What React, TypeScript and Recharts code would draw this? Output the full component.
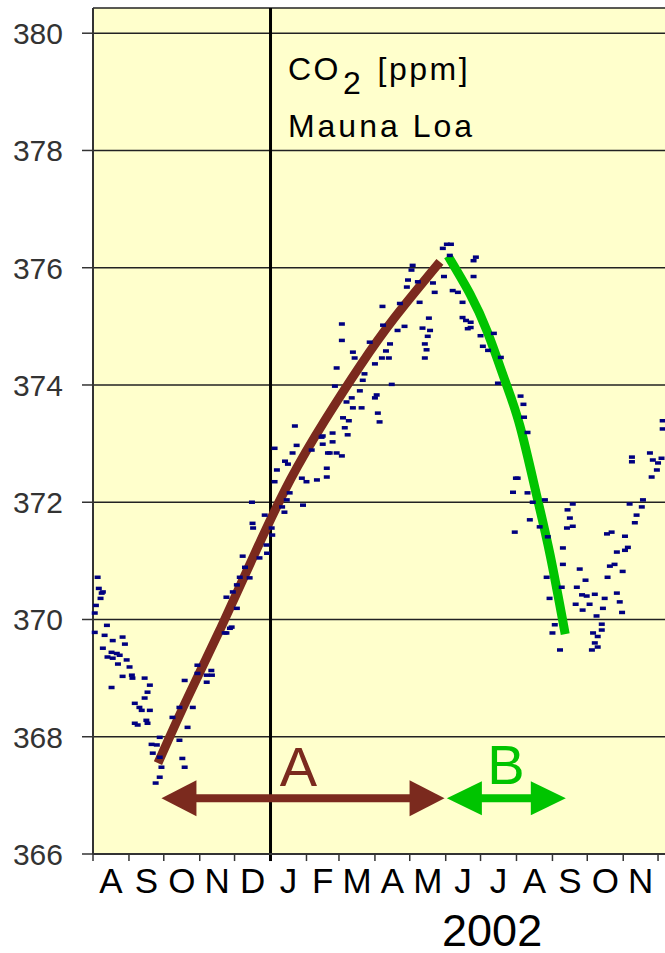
import React from 'react';
import { ComposedChart, XAxis, YAxis, CartesianGrid, Scatter, Line, ReferenceLine } from 'recharts';

// x values are days counted from 1 Aug 2001
const monthStarts = [0, 31, 61, 92, 122, 153, 184, 212, 243, 273, 304, 334, 365, 396, 426, 457, 487];
const monthLetters = ['A', 'S', 'O', 'N', 'D', 'J', 'F', 'M', 'A', 'M', 'J', 'J', 'A', 'S', 'O', 'N'];
const yTicks = [366, 368, 370, 372, 374, 376, 378, 380];
const yearStartDay = 153;

// daily Mauna Loa readings [day, ppm]
const dailyCo2: [number, number][] = [
  [4, 370.72], [5, 370.53], [7.5, 370.45], [8.5, 370.47], [6.5, 370.36], [2.5, 370.24], [1.5, 370.11], [1.5, 369.78],
  [12, 369.9], [10, 369.73], [17, 369.64], [25.5, 369.7], [27.5, 369.58], [8.5, 369.51], [16, 369.44], [20.5, 369.42],
  [23, 369.39], [12.5, 369.36], [17, 369.34], [21.5, 369.24], [29, 369.31], [31.5, 369.19], [25.5, 369.03], [33.5, 369.05],
  [16, 368.84], [34, 369.0], [44.5, 369.0], [49, 368.88], [47, 368.76], [44.5, 368.66], [36, 368.57], [40, 368.5],
  [42, 368.45], [49, 368.45], [36, 368.23], [46, 368.28], [38.5, 368.2], [47, 368.23],
  [57.5, 367.99], [50.5, 367.87], [55, 367.86], [51.5, 367.72], [57.5, 367.65], [59, 367.48], [57.5, 367.31], [54, 367.21],
  [77, 367.63], [79, 367.48], [74.5, 367.94], [81.5, 368.16], [68.5, 368.33], [74.5, 368.5], [86, 368.5], [79, 368.96],
  [90, 369.08], [90, 369.22], [98, 369.05], [102, 369.13], [102.5, 369.05], [98, 368.93], [115, 369.77], [119.5, 369.87],
  [115, 370.38], [120.5, 370.47], [124, 370.59], [113.5, 369.77], [118, 369.85], [124, 370.19], [126.5, 370.72], [129, 371.08],
  [131, 370.89], [135, 370.71], [137, 372.0], [137.5, 371.64], [138, 371.56], [143.5, 371.05], [148, 371.78], [149.5, 371.27],
  [150, 371.13], [154, 371.56], [154.5, 371.44],
  [156.5, 372.92], [158.5, 372.55], [156.5, 372.35], [163, 371.92], [165, 371.83], [165.5, 372.7], [167, 372.04], [168, 372.65],
  [169.5, 372.16], [172, 372.84], [174, 373.3], [175.5, 372.97], [180, 372.41], [181, 371.95], [184, 372.35], [188.5, 372.89],
  [193, 372.38], [197, 373.11], [198, 373.13], [198, 372.99], [201.5, 372.58], [201.5, 372.43], [202.5, 372.84], [204, 372.84],
  [206.5, 373.03], [206.5, 373.18], [208.5, 373.98], [210, 374.29], [210, 372.84], [214.5, 375.04], [214.5, 374.76], [214.5, 372.79],
  [215.5, 373.44], [217, 373.27], [218.5, 373.71], [219.5, 373.15], [220.5, 373.39], [223, 373.78], [224, 374.56], [224, 373.61],
  [225.5, 374.46], [230, 373.9], [231.5, 373.61], [232.5, 374.08], [234, 374.19], [238.5, 374.73], [243, 374.36], [243, 373.78],
  [244.5, 373.83], [245.5, 373.52], [247, 373.37], [249, 374.46], [249.5, 375.34], [250, 375.02], [252.5, 374.58], [255, 374.46],
  [256, 374.7], [257.5, 374.01], [262.5, 374.93], [264.5, 375.39], [268.5, 375.0], [270.5, 375.67], [271.5, 375.79], [274.5, 375.96],
  [275.5, 376.04], [280, 375.76], [281.5, 375.41], [284, 374.97], [286, 374.7], [286, 374.46], [287.5, 374.6], [288.5, 374.83],
  [289.5, 375.14], [290.5, 374.93], [293, 375.74], [294.5, 375.58], [301.5, 376.33], [302.5, 375.85], [305, 376.4],
  [307.5, 376.21], [308.5, 376.4], [310, 375.61], [314.5, 375.58], [318.5, 375.41], [318.5, 375.15], [321.5, 375.1], [323, 374.96],
  [325.5, 375.07], [325.5, 374.98], [328, 376.12], [328, 375.85], [330, 376.18], [334, 374.84], [336, 374.66], [340.5, 374.59],
  [345.5, 374.88], [349, 374.03], [351.5, 374.47], [362, 372.17], [363.5, 371.49], [364.5, 372.41], [366, 372.41], [368.5, 373.81],
  [371, 373.67], [371.5, 373.45], [374.5, 373.19], [374.5, 372.16], [376.5, 371.7], [379, 372.0], [385, 371.58], [389.5, 372.04],
  [391, 370.72], [392, 371.41], [393.5, 370.36], [396, 369.77], [398, 369.91], [402.5, 369.48], [404, 370.55], [405, 371.22],
  [405, 370.94], [408.5, 371.56], [409, 371.87], [411, 371.73], [413.5, 371.97], [413.5, 371.59], [416, 370.26], [417, 370.55],
  [419.5, 370.86], [421.5, 370.42], [422, 370.16], [424.5, 370.67], [425.5, 370.4], [428, 370.26], [430, 369.48], [431, 369.77],
  [432.5, 370.43], [432.5, 369.6], [434, 370.06], [435, 369.71], [435, 369.53], [438.5, 369.92], [438.5, 369.82], [439.5, 370.19],
  [441, 370.36], [443, 371.46], [443.5, 370.72], [445.5, 370.91], [447, 371.49], [449.5, 370.94], [451.5, 371.15], [451.5, 370.45],
  [454, 370.3], [456, 370.12], [456.5, 370.82], [458.5, 371.42], [458.5, 371.18], [461, 371.23], [462.5, 371.97], [464.5, 372.77],
  [464.5, 372.69], [467, 371.65], [468.5, 371.78], [473, 371.92], [474, 372.04], [480, 372.84], [481.5, 372.43], [482.5, 372.72],
  [486, 372.55], [487, 372.67], [490, 372.75], [491, 373.39], [491, 373.25],
];

// rising phase A (Oct -> May) and falling phase B (May -> Sep)
const curveA: [number, number][] = [
  [56, 367.55], [80, 368.6], [110, 369.85], [140, 371.15], [170, 372.38], [200, 373.4], [230, 374.32], [260, 375.15], [299, 376.1],
];
const curveB: [number, number][] = [
  [306, 376.2], [325, 375.55], [340, 374.9], [355, 374.08], [368, 373.3], [382, 372.15], [394, 371.1], [407, 369.75],
];

const arrowLevel = 366.95;
const arrowA = [59, 303];
const arrowB = [305, 407.5];

const BROWN = '#7b2a1e';
const GREEN = '#00c400';
const FONT = '"Liberation Sans", Arial, sans-serif';

const toRows = (pts: [number, number][]) => pts.map(([day, ppm]) => ({ day, ppm }));
const midMonths = monthStarts.slice(0, -1).map((d, i) => (d + monthStarts[i + 1]) / 2);

const Dash = (props: any) => (
  <rect x={props.cx - 3} y={props.cy - 1.75} width={6} height={3.5} fill="#000080" />
);

const YTick = (props: any) => (
  <text x={props.x} y={props.y} dy={11} textAnchor="end" fontSize={30} fill="#333" fontFamily={FONT}>
    {props.payload.value}
  </text>
);

const MonthTick = (props: any) => {
  const i = midMonths.indexOf(props.payload.value);
  return (
    <text x={props.x} y={props.y} dy={39} textAnchor="middle" fontSize={35} fill="#000" fontFamily={FONT}>
      {monthLetters[i]}
    </text>
  );
};

const arrowShape = (color: string, head: number, half: number) => (props: any) => {
  const { x1, x2, y1 } = props;
  const l = Math.min(x1, x2);
  const r = Math.max(x1, x2);
  return (
    <g>
      <line x1={l + head - 1} x2={r - head + 1} y1={y1} y2={y1} stroke={color} strokeWidth={8} />
      <polygon points={`${l},${y1} ${l + head},${y1 - half} ${l + head},${y1 + half}`} fill={color} />
      <polygon points={`${r},${y1} ${r - head},${y1 - half} ${r - head},${y1 + half}`} fill={color} />
    </g>
  );
};

// annotation anchors [day, ppm]
const titleAnchor = [{ day: 168, ppm: 379.2 }];
const labelA = [{ day: 177, ppm: 367.16 }];
const labelB = [{ day: 356, ppm: 367.19 }];
const yearLabel = [{ day: 344, ppm: 366 }];

const App: React.FC = () => {
  return (
    <div style={{ position: 'absolute', left: 0, top: 0, background: '#fff' }}>
      <ComposedChart width={665} height={953} margin={{ top: 8, right: 0, bottom: 0, left: 0 }}>
        <CartesianGrid vertical={false} stroke="#222" strokeWidth={1.5} fill="#ffffcc" fillOpacity={1} />
        <XAxis
          type="number"
          dataKey="day"
          domain={[0, 493]}
          ticks={midMonths}
          interval={0}
          tickLine={false}
          tickSize={0}
          tickMargin={0}
          tick={<MonthTick />}
          axisLine={{ stroke: '#333', strokeWidth: 2 }}
          height={99}
        />
        <YAxis
          type="number"
          domain={[366, 380.43]}
          ticks={yTicks}
          interval={0}
          width={93}
          tickSize={11}
          tickMargin={19}
          tick={<YTick />}
          tickLine={{ stroke: '#333', strokeWidth: 1.5 }}
          axisLine={{ stroke: '#333', strokeWidth: 2 }}
        />
        {monthStarts.map((d) => (
          <ReferenceLine
            key={`m${d}`}
            segment={[{ x: d, y: 366 }, { x: d, y: 365.88 }]}
            ifOverflow="visible"
            stroke={d === yearStartDay ? '#000' : '#333'}
            strokeWidth={d === yearStartDay ? 3 : 1.5}
          />
        ))}
        <ReferenceLine x={yearStartDay} stroke="#000" strokeWidth={3} />
        <Scatter data={toRows(dailyCo2)} dataKey="ppm" shape={<Dash />} isAnimationActive={false} />
        <Line data={toRows(curveA)} dataKey="ppm" type="natural" stroke={BROWN} strokeWidth={9} dot={false} isAnimationActive={false} />
        <Line data={toRows(curveB)} dataKey="ppm" type="natural" stroke={GREEN} strokeWidth={9} dot={false} isAnimationActive={false} />
        <ReferenceLine
          segment={[{ x: arrowA[0], y: arrowLevel }, { x: arrowA[1], y: arrowLevel }]}
          shape={arrowShape(BROWN, 35, 18)}
        />
        <ReferenceLine
          segment={[{ x: arrowB[0], y: arrowLevel }, { x: arrowB[1], y: arrowLevel }]}
          shape={arrowShape(GREEN, 35, 17)}
        />
        <Scatter
          data={titleAnchor}
          dataKey="ppm"
          isAnimationActive={false}
          shape={(p: any) => (
            <g fontFamily={FONT} fontSize={32} fill="#000">
              <text x={p.cx} y={p.cy} letterSpacing={2.5}>
                CO<tspan dx={2} dy={14}>2</tspan>
                <tspan dx={3} dy={-14}> [ppm]</tspan>
              </text>
              <text x={p.cx} y={p.cy + 57} letterSpacing={3}>Mauna Loa</text>
            </g>
          )}
        />
        <Scatter
          data={labelA}
          dataKey="ppm"
          isAnimationActive={false}
          shape={(p: any) => (
            <text x={p.cx} y={p.cy} textAnchor="middle" fontSize={56} fill={BROWN} fontFamily={FONT}>A</text>
          )}
        />
        <Scatter
          data={labelB}
          dataKey="ppm"
          isAnimationActive={false}
          shape={(p: any) => (
            <text x={p.cx} y={p.cy} textAnchor="middle" fontSize={56} fill={GREEN} fontFamily={FONT}>B</text>
          )}
        />
        <Scatter
          data={yearLabel}
          dataKey="ppm"
          isAnimationActive={false}
          shape={(p: any) => (
            <text x={p.cx} y={p.cy + 92} textAnchor="middle" fontSize={45} fill="#000" fontFamily={FONT}>2002</text>
          )}
        />
      </ComposedChart>
    </div>
  );
};

export default App;
